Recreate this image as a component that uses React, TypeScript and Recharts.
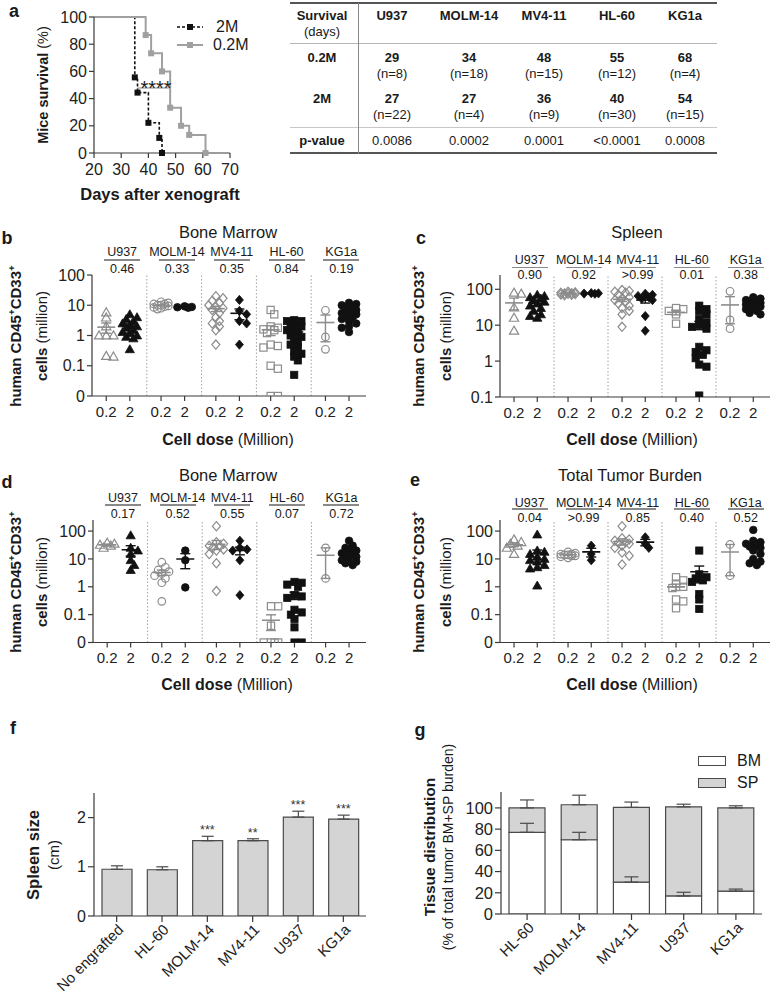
import React from 'react';
import {
  LineChart, Line, XAxis, YAxis, ScatterChart, Scatter, ErrorBar,
  ReferenceLine, BarChart, Bar, ReferenceDot,
} from 'recharts';

const FONT = '"Liberation Sans", Arial, Helvetica, sans-serif';
const AX = '#3a3a3a';
const GRAY = '#8c8c8c';
const BLACK = '#111';

// ---------- Panel a: survival ----------
const survDayTicks = [20, 30, 40, 50, 60, 70];
const survPctTicks = [0, 20, 40, 60, 80, 100];
const days02 = [20, 39, 41, 45, 48, 52, 55, 61];
const surv02 = [100, 86.7, 73.3, 60, 33.3, 20, 13.3, 0];
const days2 = [20, 35, 36, 40, 44, 45];
const surv2 = [100, 55.6, 44.4, 22.2, 11.1, 0];

// ---------- Table ----------
const cellLines = ['U937', 'MOLM-14', 'MV4-11', 'HL-60', 'KG1a'];
const med02 = [29, 34, 48, 55, 68];
const n02 = [8, 18, 15, 12, 4];
const med2 = [27, 27, 36, 40, 54];
const n2 = [22, 4, 9, 30, 15];
const survP = ['0.0086', '0.0002', '0.0001', '<0.0001', '0.0008'];

// ---------- Scatter panels ----------
const doseLabels = ['0.2', '2'];
// b: Bone marrow
const pB = ['0.46', '0.33', '0.35', '0.84', '0.19'];
const bm02 = [
  [5.8, 3.9, 2.0, 1.0, 1.0, 1.0, 0.21, 0.2],
  [13, 12, 11, 11, 10, 10, 9.5, 9, 8.5, 8, 7.5],
  [20, 17, 14, 12, 10, 9, 8, 7, 5.5, 4, 3, 2.5, 2, 1.5, 0.5],
  [7, 5, 2, 1.8, 1.6, 1.5, 1.2, 0.5, 0.45, 0.4, 0.1, 0.08, 0, 0],
  [6.8, 0.9, 0.35],
];
const bm2 = [
  [5.0, 4.0, 3.5, 3.0, 2.5, 2.2, 2.0, 1.8, 1.5, 1.3, 1.2, 1.0, 0.9, 0.8, 0.35],
  [9.2, 8.8, 8.6, 8.3],
  [15, 6.5, 5, 3, 2.5, 0.5],
  [3.2, 3.0, 3.0, 2.8, 2.5, 2.0, 1.8, 1.5, 1.3, 1.0, 0.9, 0.8, 0.6, 0.5, 0.4, 0.3, 0.25, 0.2, 0.15, 0.05],
  [12, 11, 10, 9, 8, 7, 6, 5.5, 5, 4.5, 4, 3.5, 3, 2.5, 2, 1.8, 1.3],
];
// c: Spleen
const pC = ['0.90', '0.92', '>0.99', '0.01', '0.38'];
const sp02 = [
  [80, 75, 31, 16, 7],
  [85, 82, 80, 78, 76, 75, 74, 72, 70, 68],
  [95, 90, 85, 80, 70, 60, 55, 50, 45, 40, 35, 30, 25, 20, 9],
  [30, 28, 25, 20, 11],
  [88, 14, 8],
];
const sp2 = [
  [70, 65, 60, 55, 50, 45, 40, 35, 30, 25, 20, 18, 16],
  [78, 77, 76, 75],
  [75, 70, 65, 60, 55, 50, 18, 7],
  [35, 28, 25, 20, 15, 12, 10, 9, 8, 2.5, 2, 1.8, 1.5, 1.2, 0.8, 0.7, 0.11],
  [60, 55, 50, 48, 45, 42, 40, 38, 36, 35, 33, 30, 28, 25, 22, 20],
];
// d: Bone marrow (2)
const pD = ['0.17', '0.52', '0.55', '0.07', '0.72'];
const bmd02 = [
  [38, 35, 32, 30, 25],
  [7.6, 5, 4, 3.5, 3, 2.5, 2, 1.4, 0.3],
  [150, 40, 35, 30, 28, 25, 22, 20, 15, 7, 0.7],
  [0.2, 0.2, 0.04, 0, 0, 0, 0],
  [25, 2],
];
const bmd2 = [
  [70, 25, 20, 15, 9, 6, 4],
  [20, 9, 0.95],
  [45, 25, 22, 20, 9, 0.5],
  [1.5, 1.4, 1.2, 1.0, 0.5, 0.45, 0.4, 0.15, 0.12, 0.1, 0.07, 0.035, 0, 0],
  [45, 30, 25, 20, 18, 16, 15, 14, 12, 10, 9, 8, 7, 6],
];
// e: Total tumor burden
const pE = ['0.04', '>0.99', '0.85', '0.40', '0.52'];
const tot02 = [
  [50, 40, 35, 30, 25, 15],
  [18, 16, 15, 15, 14, 14, 13, 13, 12, 11],
  [150, 55, 50, 45, 40, 38, 35, 30, 25, 17, 13, 6.3],
  [2.2, 1.7, 1.3, 1.0, 0.9, 0.35, 0.3, 0.17],
  [33, 2.5],
];
const tot2 = [
  [75, 20, 18, 15, 12, 10, 9, 8, 6, 5, 4.5, 1.1],
  [30, 15, 9],
  [60, 35, 25],
  [20, 2.8, 2.2, 2, 1.7, 1.5, 0.55, 0.35, 0.16],
  [110, 45, 40, 35, 30, 28, 25, 20, 15, 10, 8, 7, 6],
];
const kindsB = [['tri', 'tri'], ['circ', 'circ'], ['dia', 'dia'], ['sq', 'sq'], ['circ', 'circ']];
const kindsC = [['tri', 'tri'], ['dia', 'dia'], ['dia', 'dia'], ['sq', 'sq'], ['circ', 'circ']];
const kindsE = [['tri', 'tri'], ['circ', 'dia'], ['dia', 'dia'], ['sq', 'sq'], ['circ', 'circ']];
const logTicksZero = [0.01, 0.1, 1, 10, 100];
const logTicksC = [0.1, 1, 10, 100];

// ---------- f: spleen size ----------
const fNames = ['No engrafted', 'HL-60', 'MOLM-14', 'MV4-11', 'U937', 'KG1a'];
const fVals = [0.95, 0.94, 1.53, 1.53, 2.01, 1.97];
const fErr = [0.07, 0.06, 0.09, 0.04, 0.12, 0.08];
const fStars = ['', '', '***', '**', '***', '***'];
const fTicks = [0, 1, 2];

// ---------- g: tissue distribution ----------
const gNames = ['HL-60', 'MOLM-14', 'MV4-11', 'U937', 'KG1a'];
const gBM = [77, 70, 30, 17, 21.5];
const gSP = [23, 33, 70.5, 84, 78.5];
const gBMErr = [8.5, 7, 5, 3.5, 2];
const gSPErr = [7.5, 9, 5, 2.5, 2];
const gTicks = [0, 20, 40, 60, 80, 100];

// ---------- helpers ----------
function T({ x, y, children, size = 13, bold = false, anchor = 'middle', rotate = 0, color }: any) {
  const tx = anchor === 'middle' ? '-50%' : anchor === 'end' ? '-100%' : '0%';
  return (
    <div
      style={{
        position: 'absolute', left: x, top: y,
        transform: `translate(${tx}, -50%)${rotate ? ` rotate(${rotate}deg)` : ''}`,
        fontSize: size, fontWeight: bold ? 700 : 400, whiteSpace: 'nowrap', lineHeight: 1,
        color: color || '#1a1a1a',
      }}
    >
      {children}
    </div>
  );
}

function HLine({ x1, x2, y, w = 1, c = '#888' }: any) {
  return <div style={{ position: 'absolute', left: x1, top: y - w / 2, width: x2 - x1, height: w, background: c }} />;
}
function VLine({ x, y1, y2, w = 1, c = '#888' }: any) {
  return <div style={{ position: 'absolute', left: x - w / 2, top: y1, width: w, height: y2 - y1, background: c }} />;
}

function markerShape(kind: string, filled: boolean) {
  const col = filled ? BLACK : GRAY;
  return (p: any) => {
    const { cx, cy } = p;
    if (cx == null || cy == null || isNaN(cx) || isNaN(cy)) return <g />;
    const common = { fill: filled ? col : 'none', stroke: col, strokeWidth: filled ? 0.8 : 1.2 };
    if (kind === 'tri') return <path d={`M${cx},${cy - 4.6}L${cx + 4.6},${cy + 3.4}L${cx - 4.6},${cy + 3.4}Z`} {...common} />;
    if (kind === 'dia') return <path d={`M${cx},${cy - 4.6}L${cx + 4},${cy}L${cx},${cy + 4.6}L${cx - 4},${cy}Z`} {...common} />;
    if (kind === 'sq') return <rect x={cx - 3.6} y={cy - 3.6} width={7.2} height={7.2} {...common} />;
    return <circle cx={cx} cy={cy} r={3.8} {...common} />;
  };
}

function meanShape(color: string) {
  return (p: any) => {
    const { cx, cy } = p;
    if (cx == null || cy == null || isNaN(cx) || isNaN(cy)) return <g />;
    return <line x1={cx - 9} x2={cx + 9} y1={cy} y2={cy} stroke={color} strokeWidth={1.6} />;
  };
}

// deterministic beeswarm spread of points around a category position
function swarm(values: number[], center: number, floor: number, ppx: number, ppd: number) {
  const placed: { px: number; py: number }[] = [];
  const out: { x: number; y: number }[] = [];
  const sorted = [...values].sort((a, b) => b - a);
  const order = [0, 1, -1, 2, -2];
  const step = 3.6;
  const dmin = 5.2;
  for (const v of sorted) {
    const yv = Math.max(v, floor);
    const py = Math.log10(yv) * ppd;
    let best = 0;
    let bestD = -1;
    for (const k of order) {
      const px = k * step;
      let m = Infinity;
      for (const q of placed) m = Math.min(m, Math.hypot(q.px - px, q.py - py));
      if (m >= dmin) { best = px; bestD = m; break; }
      if (m > bestD) { bestD = m; best = px; }
    }
    placed.push({ px: best, py });
    out.push({ x: center + best / ppx, y: yv });
  }
  return out;
}

function summary(values: number[], center: number, floor: number) {
  const n = values.length;
  const m = values.reduce((a, b) => a + b, 0) / n;
  const sd = Math.sqrt(values.reduce((a, b) => a + (b - m) * (b - m), 0) / (n - 1));
  const se = sd / Math.sqrt(n);
  const mean = Math.max(m, floor);
  const lo = Math.max(m - se, floor * 1.05);
  return [{ x: center, y: mean, err: [Math.max(mean - lo, 0), m + se - mean] }];
}

const tickStyle = (size: number) => ({ fontSize: size, fill: '#222', fontFamily: FONT });

function ScatterPanel({ g, floor, top, yTicks, zeroAtFloor, v02, v2, kinds }: any) {
  const yW = 60, xH = 30, mt = 15, mr = 10;
  const W = g.pr - g.pl + yW + mr;
  const H = g.pb - g.pt + mt + xH;
  const ppx = (g.pr - g.pl) / 5;
  const ppd = (g.pb - g.pt) / (Math.log10(top) - Math.log10(floor));
  const pos02 = 0.26, pos2 = 0.69;
  const xt: number[] = [];
  for (let i = 0; i < 5; i++) xt.push(i + pos02, i + pos2);
  return (
    <div style={{ position: 'absolute', left: g.pl - yW, top: g.pt - mt }}>
      <ScatterChart width={W} height={H} margin={{ top: mt, right: mr, bottom: 0, left: 0 }}>
        <XAxis
          type="number" dataKey="x" domain={[0, 5]} ticks={xt} allowDataOverflow height={xH} interval={0}
          tickFormatter={(v: number) => (v % 1 < 0.5 ? doseLabels[0] : doseLabels[1])}
          tick={tickStyle(15)} tickSize={5} tickMargin={5}
          axisLine={{ stroke: AX, strokeWidth: 1.2 }} tickLine={{ stroke: AX, strokeWidth: 1.2 }}
        />
        <YAxis
          type="number" dataKey="y" scale="log" domain={[floor, top]} ticks={yTicks} allowDataOverflow width={yW} interval={0}
          tickFormatter={(v: number) => (zeroAtFloor && v <= floor * 1.01 ? '0' : String(v))}
          tick={tickStyle(16)} tickSize={5}
          axisLine={{ stroke: AX, strokeWidth: 1.2 }} tickLine={{ stroke: AX, strokeWidth: 1.2 }}
        />
        {[1, 2, 3, 4].map((i) => (
          <ReferenceLine key={'sep' + i} x={i} stroke="#a0a0a0" strokeDasharray="1.5 2" />
        ))}
        {cellLines.map((c, i) => (
          <Scatter key={'p02' + i} data={swarm(v02[i], i + pos02, floor, ppx, ppd)}
            shape={markerShape(kinds[i][0], false)} isAnimationActive={false} />
        ))}
        {cellLines.map((c, i) => (
          <Scatter key={'p2' + i} data={swarm(v2[i], i + pos2, floor, ppx, ppd)}
            shape={markerShape(kinds[i][1], true)} isAnimationActive={false} />
        ))}
        {cellLines.map((c, i) => (
          <Scatter key={'m02' + i} data={summary(v02[i], i + pos02, floor)} shape={meanShape(GRAY)} isAnimationActive={false}>
            <ErrorBar dataKey="err" direction="y" width={5} stroke={GRAY} strokeWidth={1.4} isAnimationActive={false} />
          </Scatter>
        ))}
        {cellLines.map((c, i) => (
          <Scatter key={'m2' + i} data={summary(v2[i], i + pos2, floor)} shape={meanShape(BLACK)} isAnimationActive={false}>
            <ErrorBar dataKey="err" direction="y" width={5} stroke={BLACK} strokeWidth={1.4} isAnimationActive={false} />
          </Scatter>
        ))}
      </ScatterChart>
    </div>
  );
}

function GroupHeader({ g, title, titleX, titleY, nameY, lineY, pY, pvals }: any) {
  const ppx = (g.pr - g.pl) / 5;
  return (
    <>
      <T x={titleX} y={titleY} size={16.5}>{title}</T>
      {cellLines.map((c, i) => {
        const cx = g.pl + ppx * (i + 0.55);
        return (
          <React.Fragment key={c}>
            <T x={cx} y={nameY} size={12.5}>{c}</T>
            <HLine x1={cx - 18} x2={cx + 18} y={lineY} w={1.5} c="#8a8a8a" />
            <T x={cx} y={pY} size={12.5}>{pvals[i]}</T>
          </React.Fragment>
        );
      })}
    </>
  );
}

function CellsYTitle({ x1, x2, y }: any) {
  return (
    <>
      <T x={x1} y={y} size={15} bold rotate={-90}>
        human CD45<sup style={{ fontSize: '0.65em' }}>+</sup>CD33<sup style={{ fontSize: '0.65em' }}>+</sup>
      </T>
      <T x={x2} y={y} size={15} rotate={-90}><b>cells</b> (million)</T>
    </>
  );
}

function DoseXTitle({ x, y }: any) {
  return <T x={x} y={y} size={16}><b>Cell dose</b> (Million)</T>;
}

function PanelA() {
  const pl = 94, pt = 17, pr = 230, pb = 153;
  const yW = 45, xH = 30, mt = 10, mr = 10;
  const d02 = days02.map((d, i) => ({ day: d, s: surv02[i] }));
  const d2 = days2.map((d, i) => ({ day: d, s: surv2[i] }));
  const sq = (col: string) => (p: any) => {
    if (p.index === 0 || p.cx == null) return <g key={'k' + p.index} />;
    return <rect key={'k' + p.index} x={p.cx - 3} y={p.cy - 3} width={6} height={6} fill={col} />;
  };
  return (
    <div style={{ position: 'absolute', left: pl - yW, top: pt - mt }}>
      <LineChart width={pr - pl + yW + mr} height={pb - pt + mt + xH} margin={{ top: mt, right: mr, bottom: 0, left: 0 }}>
        <XAxis type="number" dataKey="day" domain={[20, 70]} ticks={survDayTicks} allowDataOverflow height={xH} interval={0}
          tick={tickStyle(16)} tickSize={5} tickMargin={6}
          axisLine={{ stroke: AX, strokeWidth: 1.2 }} tickLine={{ stroke: AX, strokeWidth: 1.2 }} />
        <YAxis type="number" domain={[0, 100]} ticks={survPctTicks} width={yW} interval={0}
          tick={tickStyle(16)} tickSize={5}
          axisLine={{ stroke: AX, strokeWidth: 1.2 }} tickLine={{ stroke: AX, strokeWidth: 1.2 }} />
        <ReferenceLine segment={[{ x: 36, y: 47.8 }, { x: 47.5, y: 47.8 }]} stroke="#9b9b9b" strokeWidth={1.2} />
        <Line data={d2} dataKey="s" type="stepAfter" stroke={BLACK} strokeWidth={1.6} strokeDasharray="3 2" dot={sq(BLACK)} isAnimationActive={false} />
        <Line data={d02} dataKey="s" type="stepAfter" stroke="#a0a0a0" strokeWidth={2} dot={sq('#a0a0a0')} isAnimationActive={false} />
      </LineChart>
    </div>
  );
}

function Table() {
  const colX = [392, 469, 544, 617, 685];
  return (
    <>
      <HLine x1={290} x2={717} y={3} w={2} c="#555" />
      <HLine x1={290} x2={717} y={43} w={1} c="#b5b5b5" />
      <HLine x1={290} x2={717} y={127} w={1} c="#c8c8c8" />
      <HLine x1={290} x2={717} y={153} w={2} c="#555" />
      <VLine x={358} y1={3} y2={154} w={1} c="#888" />
      <T x={322} y={15} size={13} bold>Survival</T>
      <T x={322} y={31} size={13}>(days)</T>
      <T x={322} y={57} size={13} bold>0.2M</T>
      <T x={322} y={98} size={13} bold>2M</T>
      <T x={322} y={140} size={13} bold>p-value</T>
      {cellLines.map((c, i) => (
        <React.Fragment key={c}>
          <T x={colX[i]} y={15} size={13} bold>{c}</T>
          <T x={colX[i]} y={57} size={13} bold>{med02[i]}</T>
          <T x={colX[i]} y={73} size={13}>(n={n02[i]})</T>
          <T x={colX[i]} y={98} size={13} bold>{med2[i]}</T>
          <T x={colX[i]} y={114} size={13}>(n={n2[i]})</T>
          <T x={colX[i]} y={140} size={13}>{survP[i]}</T>
        </React.Fragment>
      ))}
    </>
  );
}

const rotTick = (size: number) => (p: any) => {
  const { x, y, payload } = p;
  return (
    <g transform={`translate(${x + 4},${y + 3})`}>
      <text transform="rotate(-45)" textAnchor="end" dy="0.35em" fontSize={size} fontFamily={FONT} fill="#222">
        {payload.value}
      </text>
    </g>
  );
};

function PanelF() {
  const pl = 94, pt = 793, pr = 366, pb = 916;
  const yW = 50, xH = 90, mt = 15, mr = 10;
  const data = fNames.map((n, i) => ({ name: n, v: fVals[i], err: [0, fErr[i]] }));
  return (
    <div style={{ position: 'absolute', left: pl - yW, top: pt - mt }}>
      <BarChart data={data} width={pr - pl + yW + mr} height={pb - pt + mt + xH} margin={{ top: mt, right: mr, bottom: 0, left: 0 }}>
        <XAxis dataKey="name" type="category" interval={0} height={xH} tick={rotTick(15)}
          tickSize={6} axisLine={{ stroke: AX, strokeWidth: 1.2 }} tickLine={{ stroke: AX, strokeWidth: 1.2 }} />
        <YAxis type="number" domain={[0, 2.5]} ticks={fTicks} width={yW} allowDataOverflow interval={0}
          tick={tickStyle(16)} tickSize={6}
          axisLine={{ stroke: AX, strokeWidth: 1.2 }} tickLine={{ stroke: AX, strokeWidth: 1.2 }} />
        <Bar dataKey="v" fill="#d4d4d4" stroke="#4a4a4a" strokeWidth={1.2} barSize={30} isAnimationActive={false}>
          <ErrorBar dataKey="err" direction="y" width={6} stroke="#4a4a4a" strokeWidth={1.2} isAnimationActive={false} />
        </Bar>
        {data.map((d, i) =>
          fStars[i] ? (
            <ReferenceDot key={'s' + i} x={d.name} y={d.v + fErr[i]} r={0.01} fill="none" stroke="none" ifOverflow="visible"
              label={{ value: fStars[i], position: 'top', offset: 2, fontSize: 12.5, fill: '#333', fontFamily: FONT }} />
          ) : null,
        )}
      </BarChart>
    </div>
  );
}

function PanelG() {
  const pl = 501, pt = 792, pr = 762, pb = 914;
  const yW = 50, xH = 90, mt = 15, mr = 5;
  const data = gNames.map((n, i) => ({ name: n, bm: gBM[i], sp: gSP[i], bmErr: [0, gBMErr[i]], spErr: [0, gSPErr[i]] }));
  return (
    <div style={{ position: 'absolute', left: pl - yW, top: pt - mt }}>
      <BarChart data={data} width={pr - pl + yW + mr} height={pb - pt + mt + xH} margin={{ top: mt, right: mr, bottom: 0, left: 0 }}>
        <XAxis dataKey="name" type="category" interval={0} height={xH} tick={rotTick(15)}
          tickSize={6} axisLine={{ stroke: AX, strokeWidth: 1.2 }} tickLine={{ stroke: AX, strokeWidth: 1.2 }} />
        <YAxis type="number" domain={[0, 115]} ticks={gTicks} width={yW} allowDataOverflow interval={0}
          tick={tickStyle(16.5)} tickSize={6}
          axisLine={{ stroke: AX, strokeWidth: 1.2 }} tickLine={{ stroke: AX, strokeWidth: 1.2 }} />
        <Bar dataKey="bm" stackId="a" fill="#ffffff" stroke="#4a4a4a" strokeWidth={1.2} barSize={36} isAnimationActive={false}>
          <ErrorBar dataKey="bmErr" direction="y" width={7} stroke="#4a4a4a" strokeWidth={1.2} isAnimationActive={false} />
        </Bar>
        <Bar dataKey="sp" stackId="a" fill="#d4d4d4" stroke="#4a4a4a" strokeWidth={1.2} barSize={36} isAnimationActive={false}>
          <ErrorBar dataKey="spErr" direction="y" width={7} stroke="#4a4a4a" strokeWidth={1.2} isAnimationActive={false} />
        </Bar>
      </BarChart>
    </div>
  );
}

export default function App() {
  const gB = { pl: 92, pt: 275, pr: 366, pb: 396 };
  const gC = { pl: 500, pt: 275, pr: 770, pb: 397 };
  const gD = { pl: 93, pt: 519.5, pr: 366, pb: 642 };
  const gE = { pl: 500, pt: 519.5, pr: 770, pb: 642 };
  return (
    <div style={{ position: 'absolute', left: 0, top: 0, width: 771, height: 998, background: '#fff', overflow: 'hidden', fontFamily: FONT, color: '#1a1a1a' }}>
      {/* panel letters */}
      <T x={14} y={11} size={18} bold>a</T>
      <T x={7} y={238} size={18} bold>b</T>
      <T x={421} y={238} size={18} bold>c</T>
      <T x={7} y={482} size={18} bold>d</T>
      <T x={415} y={480} size={18} bold>e</T>
      <T x={13} y={728} size={18} bold>f</T>
      <T x={420} y={730} size={18} bold>g</T>

      {/* a */}
      <PanelA />
      <T x={43} y={85} size={14.5} rotate={-90}><b>Mice survival</b> (%)</T>
      <T x={160} y={194} size={16.5} bold>Days after xenograft</T>
      <svg style={{ position: 'absolute', left: 170, top: 18 }} width={40} height={36}>
        <line x1={7} x2={33} y1={9} y2={9} stroke={BLACK} strokeWidth={1.6} strokeDasharray="3 2" />
        <rect x={17} y={6} width={6} height={6} fill={BLACK} />
        <line x1={7} x2={33} y1={27} y2={27} stroke="#a0a0a0" strokeWidth={2} />
        <rect x={17} y={24} width={6} height={6} fill="#a0a0a0" />
      </svg>
      <T x={216} y={27} size={16} anchor="start">2M</T>
      <T x={213} y={45} size={16} anchor="start">0.2M</T>
      <T x={156} y={88} size={20}>****</T>

      <Table />

      {/* b */}
      <GroupHeader g={gB} title="Bone Marrow" titleX={228} titleY={232} nameY={252} lineY={260} pY={269} pvals={pB} />
      <ScatterPanel g={gB} floor={0.01} top={100} yTicks={logTicksZero} zeroAtFloor v02={bm02} v2={bm2} kinds={kindsB} />
      <CellsYTitle x1={15} x2={41} y={336} />
      <DoseXTitle x={228} y={440} />

      {/* c */}
      <GroupHeader g={gC} title="Spleen" titleX={637} titleY={232} nameY={260} lineY={267.5} pY={275} pvals={pC} />
      <ScatterPanel g={gC} floor={0.1} top={250} yTicks={logTicksC} zeroAtFloor={false} v02={sp02} v2={sp2} kinds={kindsC} />
      <CellsYTitle x1={418} x2={445} y={336} />
      <DoseXTitle x={632} y={440} />

      {/* d */}
      <GroupHeader g={gD} title="Bone Marrow" titleX={228} titleY={475} nameY={498} lineY={505} pY={514} pvals={pD} />
      <ScatterPanel g={gD} floor={0.01} top={250} yTicks={logTicksZero} zeroAtFloor v02={bmd02} v2={bmd2} kinds={kindsB} />
      <CellsYTitle x1={15} x2={41} y={582} />
      <DoseXTitle x={227} y={685} />

      {/* e */}
      <GroupHeader g={gE} title="Total Tumor Burden" titleX={630} titleY={475} nameY={503} lineY={509} pY={518} pvals={pE} />
      <ScatterPanel g={gE} floor={0.01} top={250} yTicks={logTicksZero} zeroAtFloor v02={tot02} v2={tot2} kinds={kindsE} />
      <CellsYTitle x1={418} x2={445} y={582} />
      <DoseXTitle x={632} y={685} />

      {/* f */}
      <PanelF />
      <T x={33} y={855} size={16.5} bold rotate={-90}>Spleen size</T>
      <T x={53} y={855} size={15} rotate={-90}>(cm)</T>

      {/* g */}
      <PanelG />
      <T x={430} y={847} size={15.5} bold rotate={-90}>Tissue distribution</T>
      <T x={448} y={847} size={14} rotate={-90}>(% of total tumor BM+SP burden)</T>
      <div style={{ position: 'absolute', left: 698, top: 756, width: 26, height: 8, border: '1.2px solid #4a4a4a', background: '#fff' }} />
      <div style={{ position: 'absolute', left: 698, top: 778, width: 26, height: 8, border: '1.2px solid #4a4a4a', background: '#d4d4d4' }} />
      <T x={737} y={761} size={16} anchor="start">BM</T>
      <T x={737} y={783} size={16} anchor="start">SP</T>
    </div>
  );
}
